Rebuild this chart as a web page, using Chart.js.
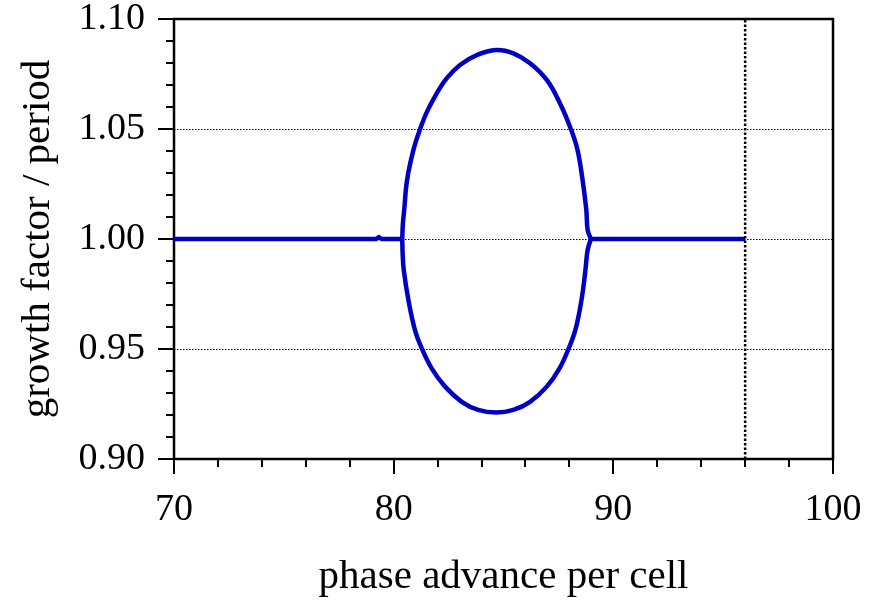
<!DOCTYPE html>
<html>
<head>
<meta charset="utf-8">
<script src="https://cdn.jsdelivr.net/npm/chart.js@4"></script>
<style>
  html, body { margin: 0; padding: 0; background: #fff; }
  #wrap { width: 870px; height: 602px; }
</style>
</head>
<body>
<div id="wrap"><canvas id="myChart" width="870" height="602"></canvas></div>
<script>
/* global Chart */

// passband to the left of the stop band
const phaseFlatLeft = [70, 79.2, 79.33, 79.45, 80.39];
const growthFlatLeft = [1, 1, 1.0008, 1, 1];

// stop band, growing solution
const phaseUpper = [80.39, 80.42, 80.48, 80.61, 80.9, 81.2, 81.52, 81.96, 82.41, 83.02, 83.78, 84.66, 85.45, 86.21, 86.97, 87.57, 88.07, 88.37, 88.6, 88.77, 88.83, 88.98];
const growthUpper = [1.0, 1.007, 1.0132, 1.0268, 1.0405, 1.0499, 1.0579, 1.0662, 1.073, 1.0791, 1.0836, 1.0859, 1.0844, 1.0799, 1.0723, 1.0617, 1.0499, 1.0405, 1.0268, 1.0132, 1.0041, 1.0];

// stop band, damped solution
const phaseLower = [80.39, 80.41, 80.46, 80.67, 80.97, 81.28, 81.73, 82.34, 83.1, 83.85, 84.66, 85.45, 86.21, 86.97, 87.55, 87.97, 88.27, 88.47, 88.62, 88.73, 88.83, 88.98];
const growthLower = [1.0, 0.993, 0.9859, 0.9723, 0.9586, 0.9503, 0.9412, 0.9329, 0.926, 0.9223, 0.9211, 0.9223, 0.926, 0.9329, 0.9412, 0.9503, 0.9586, 0.9677, 0.9768, 0.9859, 0.995, 1.0];

// passband to the right
const phaseFlatRight = [88.98, 96];
const growthFlatRight = [1, 1];

// dotted marker
const markerPhase = 96;
const markerGrowth = [0.9, 1.1];

const xMin = 70, xMax = 100, xStep = 10, xMinor = 2;
const yMin = 0.9, yMax = 1.1, yStep = 0.05, yMinor = 0.01;

const blue = '#0000c4';
const serif = "'Liberation Serif', 'Times New Roman', serif";

function toPoints(xs, ys) {
  return xs.map(function(v, i){ return {x: v, y: ys[i]}; });
}

function curve(xs, ys, tension) {
  return {
    data: toPoints(xs, ys),
    showLine: true,
    borderColor: blue,
    backgroundColor: blue,
    borderWidth: 4.5,
    pointRadius: 0,
    tension: tension,
  };
}

const frameTicks = {
  id: 'frameTicks',
  beforeDatasetsDraw(chart) {
    const {ctx, chartArea: a, scales: {x, y}} = chart;
    ctx.save();
    ctx.strokeStyle = '#000';
    ctx.lineWidth = 2;
    ctx.beginPath();
    const nx = Math.round((xMax - xMin) / xMinor);
    for (let i = 0; i <= nx; i++) {
      const px = Math.round(x.getPixelForValue(xMin + i * xMinor));
      const len = (i % 5 === 0) ? 15 : 8;
      ctx.moveTo(px, a.bottom);
      ctx.lineTo(px, a.bottom + len);
    }
    const ny = Math.round((yMax - yMin) / yMinor);
    for (let i = 0; i <= ny; i++) {
      const py = Math.round(y.getPixelForValue(yMin + i * yMinor));
      const len = (i % 5 === 0) ? 16 : 8;
      ctx.moveTo(a.left, py);
      ctx.lineTo(a.left - len, py);
    }
    ctx.stroke();
    ctx.lineWidth = 2.5;
    ctx.strokeRect(a.left, a.top, a.right - a.left, a.bottom - a.top);
    ctx.restore();
  }
};

var ctx = document.getElementById('myChart').getContext('2d');

var chart = new Chart(ctx, {
  type: 'scatter',
  data: {
    datasets: [
      {
        data: toPoints([markerPhase, markerPhase], markerGrowth),
        showLine: true,
        borderColor: '#000',
        borderWidth: 2.5,
        borderDash: [2.5, 2],
        pointRadius: 0,
      },
      curve(phaseFlatLeft, growthFlatLeft, 0),
      curve(phaseUpper, growthUpper, 0.4),
      curve(phaseLower, growthLower, 0.4),
      curve(phaseFlatRight, growthFlatRight, 0),
    ]
  },
  options: {
    responsive: false,
    animation: false,
    layout: { padding: { top: 19, right: 37, left: 0, bottom: 0 } },
    plugins: {
      legend: { display: false },
      tooltip: { enabled: false },
    },
    scales: {
      x: {
        type: 'linear',
        min: xMin,
        max: xMax,
        afterFit: function(scale) {
          scale.height = 143;
          scale.paddingLeft = 0;
          scale.paddingRight = 0;
        },
        ticks: {
          stepSize: xStep,
          padding: 28,
          color: '#000',
          maxRotation: 0,
          font: { family: serif, size: 38 },
          callback: function(v) { return String(v); },
        },
        grid: { display: false, drawTicks: false },
        border: { display: false },
        title: {
          display: true,
          text: 'phase advance per cell',
          color: '#000',
          font: { family: serif, size: 41 },
          padding: { top: 0, bottom: 0 },
        },
      },
      y: {
        type: 'linear',
        min: yMin,
        max: yMax,
        afterFit: function(scale) {
          scale.width = 174;
          scale.paddingTop = 0;
          scale.paddingBottom = 0;
        },
        ticks: {
          stepSize: yStep,
          padding: 29,
          color: '#000',
          font: { family: serif, size: 38 },
          callback: function(v) { return Number(v).toFixed(2); },
        },
        grid: {
          drawTicks: false,
          lineWidth: 1,
          color: function(c) {
            const v = c.tick ? c.tick.value : 0;
            return (v > yMin + 0.001 && v < yMax - 0.001) ? '#000' : 'rgba(0,0,0,0)';
          },
        },
        border: { display: false, dash: [1.5, 1.5] },
        title: {
          display: true,
          text: 'growth factor / period',
          color: '#000',
          font: { family: serif, size: 41 },
          padding: { top: 14, bottom: 0 },
        },
      },
    },
  },
  plugins: [frameTicks],
});
</script>
</body>
</html>
